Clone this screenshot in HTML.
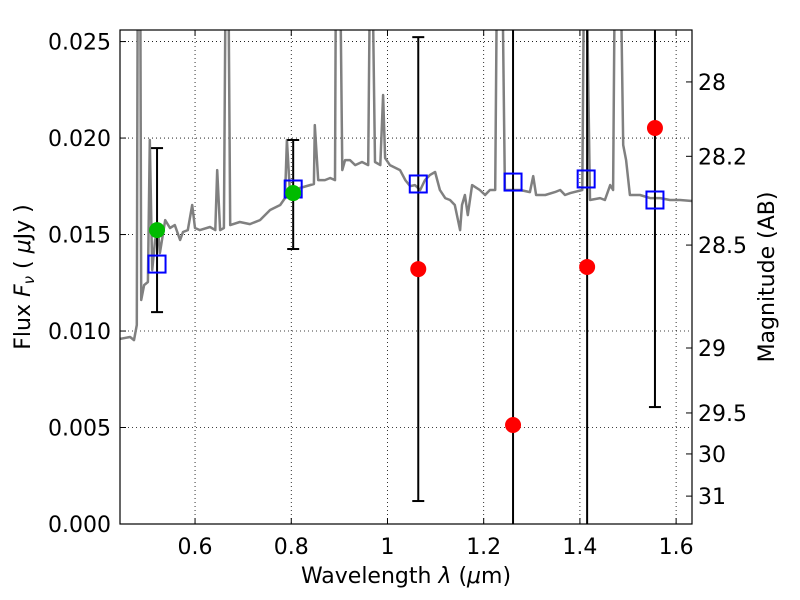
<!DOCTYPE html>
<html><head><meta charset="utf-8"><style>
html,body{margin:0;background:#fff;width:800px;height:600px;overflow:hidden}
svg text{font-family:"DejaVu Sans","Liberation Sans",sans-serif;font-size:22px;fill:#000}
</style></head><body>
<svg id="chart" width="800" height="600" style="position:absolute;left:0;top:0" xmlns="http://www.w3.org/2000/svg">
<defs><clipPath id="clip"><rect x="120" y="30" width="572" height="494"/></clipPath></defs>
<rect x="0" y="0" width="800" height="600" fill="#fff"/>
<g id="grid"></g>
<g id="plot" clip-path="url(#clip)"></g>
<g id="axes"></g>
<text x="406" y="583" text-anchor="middle">Wavelength  <tspan font-style="italic">λ</tspan> (<tspan font-style="italic">μ</tspan>m)</text>
<text transform="translate(30,277) rotate(-90)" text-anchor="middle">Flux  <tspan font-style="italic">F</tspan><tspan font-style="italic" font-size="15" dy="4">ν</tspan><tspan dy="-4">  ( </tspan><tspan font-style="italic">μ</tspan>Jy )</text>
<text transform="translate(774,277) rotate(-90)" text-anchor="middle">Magnitude (AB)</text>
</svg>
<script>
const specW=[0.444,0.465,0.473,0.479,0.481,0.486,0.488,0.494,0.502,0.506,0.511,0.517,0.523,0.527,0.538,0.548,0.558,0.569,0.575,0.585,0.594,0.600,0.610,0.631,0.642,0.646,0.652,0.660,0.664,0.669,0.673,0.693,0.714,0.735,0.756,0.777,0.787,0.791,0.797,0.808,0.818,0.847,0.849,0.856,0.870,0.881,0.891,0.893,0.901,0.906,0.912,0.922,0.933,0.947,0.960,0.964,0.968,0.974,0.985,0.991,0.995,1.005,1.026,1.037,1.047,1.057,1.068,1.078,1.088,1.099,1.109,1.120,1.130,1.140,1.151,1.155,1.161,1.167,1.176,1.192,1.203,1.213,1.224,1.228,1.238,1.244,1.255,1.265,1.276,1.296,1.303,1.309,1.328,1.348,1.359,1.369,1.380,1.405,1.409,1.413,1.421,1.442,1.452,1.463,1.469,1.473,1.484,1.490,1.496,1.504,1.525,1.546,1.567,1.587,1.608,1.633];
const specF=[0.00959,0.00969,0.00953,0.01031,0.03,0.03,0.01161,0.01238,0.01254,0.01990,0.01316,0.01472,0.01523,0.01404,0.01575,0.01534,0.01549,0.01472,0.01513,0.01523,0.01653,0.01534,0.01523,0.01539,0.01523,0.01834,0.01523,0.01534,0.03,0.03,0.01549,0.01565,0.01554,0.01575,0.01627,0.01653,0.01689,0.01990,0.01731,0.01720,0.01741,0.01762,0.02067,0.01782,0.01782,0.01793,0.01782,0.03,0.03,0.01834,0.01886,0.01886,0.01860,0.01876,0.01860,0.03,0.03,0.01876,0.01860,0.02223,0.01896,0.01860,0.01834,0.01782,0.01751,0.01756,0.01731,0.01782,0.01808,0.01824,0.01731,0.01689,0.01679,0.01653,0.01523,0.01653,0.01705,0.01601,0.01756,0.01731,0.01705,0.01731,0.01731,0.03,0.03,0.01731,0.01731,0.01731,0.01731,0.01720,0.01803,0.01705,0.01705,0.01720,0.01731,0.01705,0.01715,0.01731,0.03,0.03,0.01679,0.01689,0.01679,0.01756,0.01731,0.03,0.03,0.01964,0.01886,0.01705,0.01705,0.01689,0.01689,0.01679,0.01679,0.01674];
const grnW=[0.521,0.804], grnF=[0.01523,0.01715], grnLo=[0.01098,0.01425], grnHi=[0.01948,0.0199];
const redW=[1.064,1.261,1.415,1.556], redF=[0.01321,0.00513,0.01332,0.02052], redLo=[0.00119,-0.01,-0.01,0.00606], redHi=[0.02523,0.03,0.03,0.03];
const sqW=[0.521,0.804,1.064,1.261,1.413,1.556], sqF=[0.01347,0.01736,0.01762,0.01772,0.01788,0.01679];
const xTicks=[0.6,0.8,1.0,1.2,1.4,1.6], xLabels=["0.6","0.8","1","1.2","1.4","1.6"];
const yTicks=[0,0.005,0.01,0.015,0.02,0.025], yLabels=["0.000","0.005","0.010","0.015","0.020","0.025"];
const magTicks=[28,28.2,28.5,29,29.5,30,31];
const X0=120,X1=692,Y0=524,Y1=30,WMIN=0.444,WMAX=1.633,FMIN=0,FMAX=0.0256;
const xs=w=>X0+(w-WMIN)/(WMAX-WMIN)*(X1-X0);
const ys=f=>Y0-(f-FMIN)/(FMAX-FMIN)*(Y0-Y1);
const NS="http://www.w3.org/2000/svg";
function mk(parent,tag,attrs){const e=document.createElementNS(NS,tag);for(const k in attrs)e.setAttribute(k,attrs[k]);parent.appendChild(e);return e;}
const grid=document.getElementById('grid'),plot=document.getElementById('plot'),axes=document.getElementById('axes');
xTicks.forEach((t,i)=>{const x=xs(t);
 const g=mk(grid,'line',{x1:x,x2:x,y1:Y1,y2:Y0,stroke:'#000','stroke-width':0.8,'stroke-dasharray':'1,3'});
 
 mk(axes,'line',{x1:x,x2:x,y1:Y0,y2:Y0-6,stroke:'#000'});mk(axes,'line',{x1:x,x2:x,y1:Y1,y2:Y1+6,stroke:'#000'});
 const tx=mk(axes,'text',{x:x,y:554,'text-anchor':'middle'});tx.textContent=xLabels[i];
 });
yTicks.forEach((t,i)=>{const y=ys(t);
 if(t>0){const g=mk(grid,'line',{x1:X0,x2:X1,y1:y,y2:y,stroke:'#000','stroke-width':0.8,'stroke-dasharray':'1,3'});
 }
 mk(axes,'line',{x1:X0,x2:X0+6,y1:y,y2:y,stroke:'#000'});
 const tx=mk(axes,'text',{x:111,y:y+8,'text-anchor':'end'});tx.textContent=yLabels[i];
 });
magTicks.forEach(m=>{const f=Math.pow(10,(23.9-m)/2.5);const y=ys(f);
 mk(axes,'line',{x1:X1,x2:X1-6,y1:y,y2:y,stroke:'#000'});
 const tx=mk(axes,'text',{x:698,y:y+8,'text-anchor':'start'});tx.textContent=String(m);
 });
let d='';specW.forEach((w,i)=>{d+=(i?'L':'M')+xs(w).toFixed(1)+','+ys(specF[i]).toFixed(1);});
const sp=mk(plot,'path',{d:d,fill:'none',stroke:'#808080','stroke-width':2.5,'stroke-linejoin':'round'});

function errbar(w,lo,hi,name){const x=xs(w);const g=mk(plot,'g',{});
 
 mk(g,'line',{x1:x,x2:x,y1:ys(lo),y2:ys(hi),stroke:'#000','stroke-width':2});
 mk(g,'line',{x1:x-6,x2:x+6,y1:ys(lo),y2:ys(lo),stroke:'#000','stroke-width':2});
 mk(g,'line',{x1:x-6,x2:x+6,y1:ys(hi),y2:ys(hi),stroke:'#000','stroke-width':2});}
grnW.forEach((w,i)=>errbar(w,grnLo[i],grnHi[i],'green-error-bar'));
redW.forEach((w,i)=>errbar(w,redLo[i],redHi[i],'red-error-bar'));
sqW.forEach((w,i)=>{const r=mk(plot,'rect',{x:xs(w)-8.5,y:ys(sqF[i])-8.5,width:17,height:17,fill:'none',stroke:'#0000ff','stroke-width':2});
 });
grnW.forEach((w,i)=>{const c=mk(plot,'circle',{cx:xs(w),cy:ys(grnF[i]),r:8,fill:'#00bb00'});
 });
redW.forEach((w,i)=>{const c=mk(plot,'circle',{cx:xs(w),cy:ys(redF[i]),r:8,fill:'#ff0000'});
 });
const fr=mk(axes,'rect',{x:X0,y:Y1,width:X1-X0,height:Y0-Y1,fill:'none',stroke:'#000','stroke-width':1.2});

</script>
</body></html>
